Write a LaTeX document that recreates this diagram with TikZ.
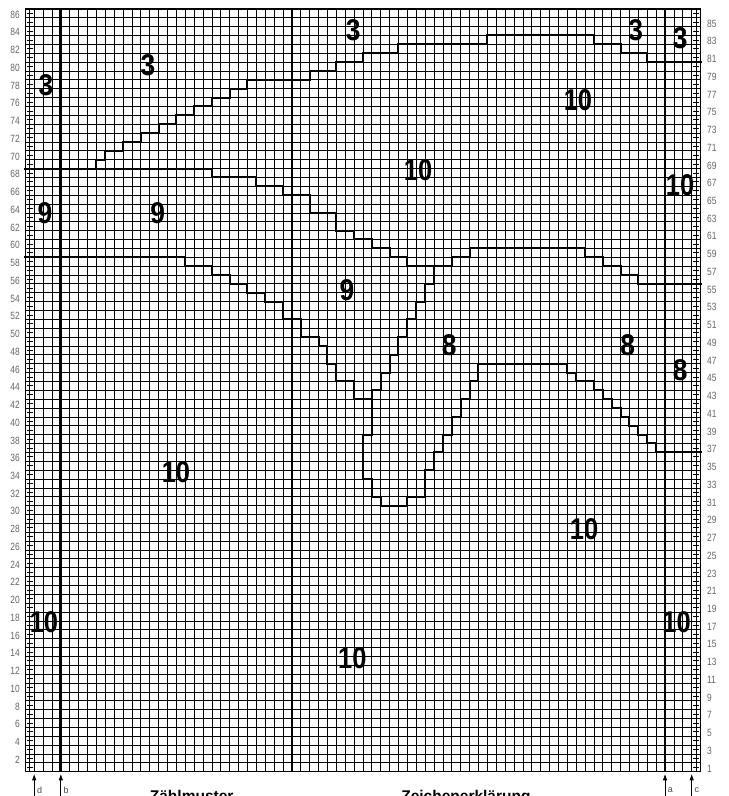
\documentclass[tikz,border=0pt]{standalone}
\usepackage{fontspec}
\setmainfont{Liberation Sans}
\usepackage{graphicx}
\usetikzlibrary{arrows.meta}
\begin{document}
\begin{tikzpicture}[x=8.885pt,y=8.87pt,
  gridline/.style={line width=0.7pt,black},
  patline/.style={line width=2.0pt,line join=miter,line cap=rect},
  bigl/.style={font=\fontsize{30}{30}\selectfont\bfseries,inner sep=0pt},
  rowlab/.style={font=\fontsize{10.5}{10.5}\selectfont,text=black!60,inner sep=0pt},
  marklab/.style={font=\fontsize{9}{9}\selectfont,text=black!70,inner sep=0pt,anchor=west},
  markarrow/.style={-{Triangle[length=6pt,width=4pt]},line width=0.8pt},
  marker/.style={line width=2.8pt},
  tenline/.style={line width=1.4pt},
  foot/.style={font=\fontsize{15.5}{15.5}\selectfont\bfseries,inner sep=0pt,anchor=base west}
]
\useasboundingbox (-2.848,-2.74) rectangle (79.2,87.0);
\fill[white] (-2.848,-2.74) rectangle (79.2,87.0);
% grid
\foreach \c in {0,...,76} \draw[gridline] (\c,0) -- (\c,86);
\foreach \r in {0,...,86} \draw[gridline] (0,\r) -- (76,\r);
% selvage strips
\draw[gridline] (0.5,0) -- (0.5,86);
\draw[gridline] (75.5,0) -- (75.5,86);
\foreach \r in {0,...,85} {
  \draw[gridline] (0.15,\r+0.5) -- (0.85,\r+0.5);
  \draw[gridline] (75.15,\r+0.5) -- (75.85,\r+0.5);
}
% heavier lines
\draw[tenline] (30,0) -- (30,86);
\draw[tenline] (40,0) -- (40,86);
\draw[marker] (4,0) -- (4,86);
\draw[marker] (72,0) -- (72,86);
\draw[line width=1.3pt] (0,0) rectangle (76,86);
% pattern lines
\draw[patline] (0,68)-|(8,69)-|(9,70)-|(11,71)-|(13,72)-|(15,73)-|(17,74)-|(19,75)-|(21,76)-|(23,77)-|(25,78)-|(32,79)-|(35,80)-|(38,81)-|(42,82)-|(52,83)-|(64,82)-|(67,81)-|(70,80)--(76,80);
\draw[patline] (0,68)-|(21,67)-|(26,66)-|(29,65)-|(32,63)-|(35,61)-|(37,60)-|(39,59)-|(41,58)-|(43,57)-|(48,58)-|(50,59)-|(63,58)-|(65,57)-|(67,56)-|(69,55)--(76,55);
\draw[patline] (0,58)-|(18,57)-|(21,56)-|(23,55)-|(25,54)-|(27,53)-|(29,51)-|(31,49)-|(33,48)-|(34,46)-|(35,44)-|(37,42)-|(39,38)-|(38,33)-|(39,31)-|(40,30)-|(43,31)-|(45,34)-|(46,36)-|(47,38)-|(48,40)-|(49,42)-|(50,44)-|(51,46)-|(61,45)-|(62,44)-|(64,43)-|(65,42)-|(66,41)-|(67,40)-|(68,39)-|(69,38)-|(70,37)-|(71,36)--(76,36);
\draw[patline] (39,42)--(39,43)-|(40,45)-|(41,47)-|(42,49)-|(43,51)-|(44,53)-|(45,55)-|(46,57);
% big colour numbers
\node[bigl] (n1) at (2.33,77.4) {\scalebox{0.88}[1]{3}};
\node[bigl] (n2) at (13.81,79.6) {\scalebox{0.88}[1]{3}};
\node[bigl] (n3) at (36.9,83.6) {\scalebox{0.88}[1]{3}};
\node[bigl] (n4) at (68.7,83.6) {\scalebox{0.88}[1]{3}};
\node[bigl] (n5) at (73.7,82.7) {\scalebox{0.88}[1]{3}};
\node[bigl] (n6) at (62.2,75.7) {\scalebox{0.85}[1]{10}};
\node[bigl] (n7) at (44.2,67.8) {\scalebox{0.85}[1]{10}};
\node[bigl] (n8) at (73.7,66.1) {\scalebox{0.85}[1]{10}};
\node[bigl] (n9) at (2.22,63.0) {\scalebox{0.88}[1]{9}};
\node[bigl] (n10) at (14.9,63.0) {\scalebox{0.88}[1]{9}};
\node[bigl] (n11) at (36.2,54.3) {\scalebox{0.88}[1]{9}};
\node[bigl] (n12) at (47.7,48.1) {\scalebox{0.88}[1]{8}};
\node[bigl] (n13) at (67.8,48.1) {\scalebox{0.88}[1]{8}};
\node[bigl] (n14) at (73.7,45.3) {\scalebox{0.88}[1]{8}};
\node[bigl] (n15) at (16.96,33.8) {\scalebox{0.85}[1]{10}};
\node[bigl] (n16) at (62.9,27.3) {\scalebox{0.85}[1]{10}};
\node[bigl] (n17) at (2.1,16.9) {\scalebox{0.85}[1]{10}};
\node[bigl] (n18) at (73.3,16.9) {\scalebox{0.85}[1]{10}};
\node[bigl] (n19) at (36.8,12.8) {\scalebox{0.85}[1]{10}};
% row numbers
\foreach \n in {2,4,...,86} \node[rowlab,anchor=east] (L\n) at (-0.6,\n-0.65) {\scalebox{0.8}[1]{\n}};
\foreach \n in {1,3,...,85} \node[rowlab,anchor=west] (R\n) at (76.72,\n-0.65) {\scalebox{0.8}[1]{\n}};
% size markers
\coordinate (dB) at (1,-2.74); \coordinate (dT) at (1,-0.3);
\coordinate (bB) at (4,-2.74); \coordinate (bT) at (4,-0.3);
\coordinate (aB) at (72,-2.74); \coordinate (aT) at (72,-0.3);
\coordinate (cB) at (75,-2.74); \coordinate (cT) at (75,-0.3);
\draw[markarrow] (dB) -- (dT);
\draw[markarrow] (bB) -- (bT);
\draw[markarrow] (aB) -- (aT);
\draw[markarrow] (cB) -- (cT);
\node[marklab] (md) at (1.3,-2.1) {d};
\node[marklab] (mb) at (4.3,-2.1) {b};
\node[marklab] (ma) at (72.3,-2.1) {a};
\node[marklab] (mc) at (75.3,-2.1) {c};
% captions (cut off at the lower edge, as in the original)
\node[foot] (f1) at (14.0,-3.4) {Zählmuster};
\node[foot] (f2) at (42.3,-3.4) {Zeichenerklärung};
\end{tikzpicture}
\end{document}
